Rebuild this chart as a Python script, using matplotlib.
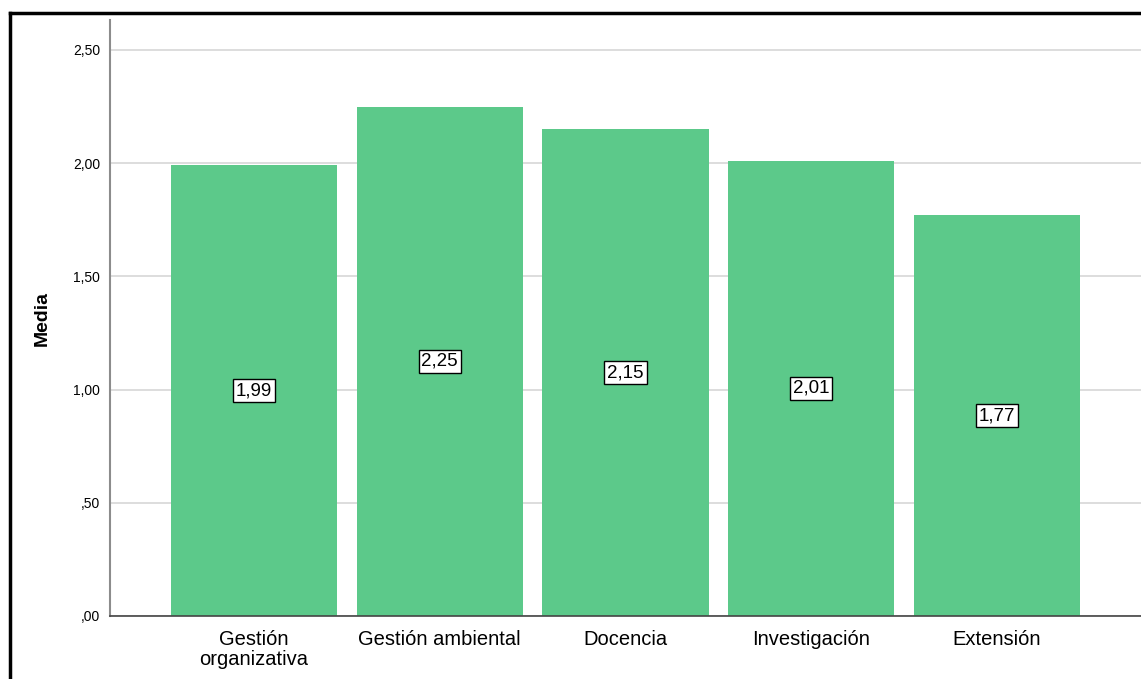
import matplotlib.pyplot as plt
from matplotlib.lines import Line2D

# Data
categories = ["Gestión\norganizativa", "Gestión ambiental", "Docencia", "Investigación", "Extensión"]
medias = [1.99, 2.25, 2.15, 2.01, 1.77]
labels = ["1,99", "2,25", "2,15", "2,01", "1,77"]
yticks = [0, 0.5, 1.0, 1.5, 2.0, 2.5]
ytick_labels = [",00", ",50", "1,00", "1,50", "2,00", "2,50"]

plt.rcParams['font.family'] = ['Liberation Sans', 'DejaVu Sans']

fig = plt.figure(figsize=(11.41, 6.79), dpi=100)
ax = fig.add_axes([0.0964, 0.0928, 0.9036, 0.8777])

x = range(len(categories))
ax.bar(x, medias, width=0.894, color="#5cc98a", zorder=2)

for i, (v, lab) in enumerate(zip(medias, labels)):
    ax.text(i, v / 2, lab, ha="center", va="center", fontsize=13.5, zorder=3,
            bbox=dict(boxstyle="square,pad=0.15", facecolor="white", edgecolor="black", linewidth=1))

ax.set_xlim(-0.775, 4.775)
ax.set_ylim(0, 2.632)
ax.set_yticks(yticks)
ax.set_yticklabels(ytick_labels, fontsize=10)
ax.set_xticks(list(x))
ax.set_xticklabels(categories, fontsize=14.5, linespacing=1.05)
ax.tick_params(axis="both", length=0)
ax.tick_params(axis="y", pad=7)
ax.tick_params(axis="x", pad=10)
ax.set_ylabel("Media", fontsize=14, fontweight="bold", labelpad=16)

ax.grid(axis="y", color="#d7d7d7", linewidth=1.2, zorder=0)
ax.set_axisbelow(True)
for s in ["top", "right"]:
    ax.spines[s].set_visible(False)
ax.spines["left"].set_color("#8c8c8c")
ax.spines["left"].set_linewidth(1.5)
ax.spines["bottom"].set_color("#444444")
ax.spines["bottom"].set_linewidth(1.2)

# black frame on left and top of the image
fig.add_artist(Line2D([10 / 1141, 10 / 1141], [0, 1 - 13 / 679], color="black", linewidth=2.5,
                      transform=fig.transFigure))
fig.add_artist(Line2D([10 / 1141, 1], [1 - 13 / 679, 1 - 13 / 679], color="black", linewidth=2.5,
                      transform=fig.transFigure))

plt.savefig("out.png", dpi=100)
